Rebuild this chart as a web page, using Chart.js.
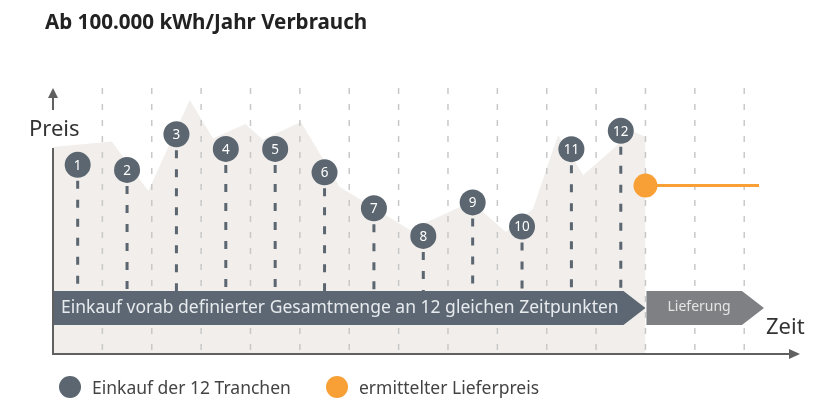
<!DOCTYPE html>
<html>
<head>
<meta charset="utf-8">
<script src="https://cdn.jsdelivr.net/npm/chart.js@4.4.1/dist/chart.umd.min.js"></script>
<style>
  html, body { margin: 0; padding: 0; background: #fff; }
  #wrap { position: relative; width: 840px; height: 403px; font-family: "Noto Sans", sans-serif; color: #333; }
  #c { position: absolute; left: 0; top: 0; }
  .title { position: absolute; left: 45px; top: 7px; font-weight: bold; font-size: 20.6px; color: #222; white-space: nowrap; }
  .axlabel { position: absolute; font-size: 22px; color: #333; white-space: nowrap; }
  .legend { position: absolute; top: 375px; font-size: 17.5px; color: #444; white-space: nowrap; display: flex; align-items: center; }
  .legend .dot { width: 22px; height: 22px; border-radius: 50%; margin-right: 11px; }
</style>
</head>
<body>
<div id="wrap">
  <canvas id="c" width="840" height="403"></canvas>
  <div class="title">Ab 100.000 kWh/Jahr Verbrauch</div>
  <div class="axlabel" style="left:29px; top:112px;">Preis</div>
  <div class="axlabel" style="left:766px; top:310px;">Zeit</div>
  <div class="legend" style="left:59px;"><span class="dot" style="background:#5b6670"></span>Einkauf der 12 Tranchen</div>
  <div class="legend" style="left:326px;"><span class="dot" style="background:#f8a035"></span>ermittelter Lieferpreis</div>
</div>
<script>
// price curve (time in grid units, price in arbitrary units 0..100)
const priceX = [0, 1.19, 1.93, 2.77, 3.24, 3.90, 4.25, 5.02, 5.81, 7.23, 8.24, 8.69, 9.17, 9.72, 10.23, 10.74, 11.75, 12];
const priceY = [77.8, 79.9, 61.3, 95.5, 81.0, 86.5, 80.5, 87.2, 62.8, 46.6, 55.3, 53.8, 45.9, 54.5, 82.3, 67.3, 83.6, 81.6];

// the 12 purchase tranches
const trancheLabels = ["1", "2", "3", "4", "5", "6", "7", "8", "9", "10", "11", "12"];
const trancheX = [0.5, 1.5, 2.5, 3.5, 4.5, 5.5, 6.5, 7.5, 8.5, 9.5, 10.5, 11.5];
const trancheY = [71.1, 69.2, 82.6, 77.1, 77.1, 68.3, 54.8, 44.4, 57.0, 47.9, 77.0, 83.9];

// resulting delivery price
const lieferX = [12, 14.3];
const lieferY = [63.3, 63.3];

// time grid + phases
const gridX = [1, 2, 3, 4, 5, 6, 7, 8, 9, 10, 11, 12, 13, 14];
const phaseX = [0, 12, 14.4];
const phaseLabels = ["Einkauf vorab definierter Gesamtmenge an 12 gleichen Zeitpunkten", "Lieferung"];

const toXY = (xs, ys) => xs.map((v, i) => ({ x: v, y: ys[i] }));

function arrowShape(ctx, x0, x1, tip, top, h, color) {
  ctx.fillStyle = color;
  ctx.beginPath();
  ctx.moveTo(x0, top);
  ctx.lineTo(x1, top);
  ctx.lineTo(tip, top + h / 2);
  ctx.lineTo(x1, top + h);
  ctx.lineTo(x0, top + h);
  ctx.closePath();
  ctx.fill();
}

const extras = {
  id: "extras",
  afterDatasetDraw(chart, args) {
    if (args.index !== 0) return;
    const { ctx, chartArea: a, scales: { x, y } } = chart;
    ctx.save();
    // dashed time grid
    ctx.strokeStyle = "#c8c8c8";
    ctx.lineWidth = 1.5;
    ctx.setLineDash([6, 10]);
    gridX.forEach(v => {
      const px = x.getPixelForValue(v);
      ctx.beginPath();
      ctx.moveTo(px, a.top);
      ctx.lineTo(px, a.bottom);
      ctx.stroke();
    });
    // drop lines from the tranche points
    const bannerTop = a.bottom - 63;
    ctx.strokeStyle = "#5b6670";
    ctx.lineWidth = 3;
    ctx.setLineDash([8, 11]);
    trancheX.forEach((v, i) => {
      const px = x.getPixelForValue(v);
      ctx.beginPath();
      ctx.moveTo(px, y.getPixelForValue(trancheY[i]) + 16);
      ctx.lineTo(px, bannerTop);
      ctx.stroke();
    });
    ctx.restore();
  },
  afterDatasetsDraw(chart) {
    const { ctx, chartArea: a, scales: { x, y } } = chart;
    ctx.save();
    // numbers in the tranche circles
    const meta = chart.getDatasetMeta(1);
    ctx.fillStyle = "#ffffff";
    ctx.font = '13.5px "Noto Sans"';
    ctx.textAlign = "center";
    ctx.textBaseline = "middle";
    meta.data.forEach((pt, i) => ctx.fillText(trancheLabels[i], pt.x, pt.y + 1));

    // phase banner
    const top = a.bottom - 63, h = 34;
    const p0 = x.getPixelForValue(phaseX[0]);
    const p1 = x.getPixelForValue(phaseX[1]);
    const p2 = x.getPixelForValue(phaseX[2]);
    arrowShape(ctx, p0, p1 - 22, p1, top, h, "#5c6773");
    arrowShape(ctx, p1 + 1, p2 - 22, p2, top, h, "#7f8083");
    ctx.textAlign = "left";
    ctx.fillStyle = "#e8ebee";
    ctx.font = '17.5px "Noto Sans"';
    ctx.fillText(phaseLabels[0], p0 + 8, top + h / 2);
    ctx.fillStyle = "#e4e4e4";
    ctx.font = '14px "Noto Sans"';
    ctx.fillText(phaseLabels[1], p1 + 22, top + h / 2 - 1);

    // axes with arrows
    ctx.strokeStyle = "#606060";
    ctx.fillStyle = "#606060";
    ctx.lineWidth = 2;
    ctx.beginPath();
    ctx.moveTo(a.left, 148);
    ctx.lineTo(a.left, a.bottom);
    ctx.lineTo(a.right - 10, a.bottom);
    ctx.moveTo(a.left, 110);
    ctx.lineTo(a.left, 96);
    ctx.stroke();
    ctx.beginPath();
    ctx.moveTo(a.left, a.top);
    ctx.lineTo(a.left - 5, a.top + 10);
    ctx.lineTo(a.left + 5, a.top + 10);
    ctx.closePath();
    ctx.fill();
    ctx.beginPath();
    ctx.moveTo(a.right, a.bottom);
    ctx.lineTo(a.right - 11, a.bottom - 5);
    ctx.lineTo(a.right - 11, a.bottom + 5);
    ctx.closePath();
    ctx.fill();
    ctx.restore();
  }
};

new Chart(document.getElementById("c"), {
  type: "line",
  data: {
    datasets: [
      {
        label: "Preis",
        data: toXY(priceX, priceY),
        fill: "origin",
        backgroundColor: "#f1eeeb",
        borderWidth: 0,
        pointRadius: 0,
        tension: 0,
        order: 10
      },
      {
        label: "Einkauf der 12 Tranchen",
        data: toXY(trancheX, trancheY),
        showLine: false,
        pointRadius: 13,
        pointBackgroundColor: "#5b6670",
        pointBorderWidth: 0,
        order: 1
      },
      {
        label: "ermittelter Lieferpreis",
        data: toXY(lieferX, lieferY),
        borderColor: "#f8a035",
        borderWidth: 3,
        pointRadius: [12, 0],
        pointBackgroundColor: "#f8a035",
        pointBorderWidth: 0,
        order: 2
      }
    ]
  },
  options: {
    responsive: false,
    animation: false,
    events: [],
    layout: { padding: { left: 53, right: 40, top: 88, bottom: 49 } },
    scales: {
      x: { type: "linear", min: 0, max: 15.13, display: false },
      y: { min: 0, max: 100, display: false }
    },
    plugins: {
      legend: { display: false },
      tooltip: { enabled: false }
    }
  },
  plugins: [extras]
});
</script>
</body>
</html>
